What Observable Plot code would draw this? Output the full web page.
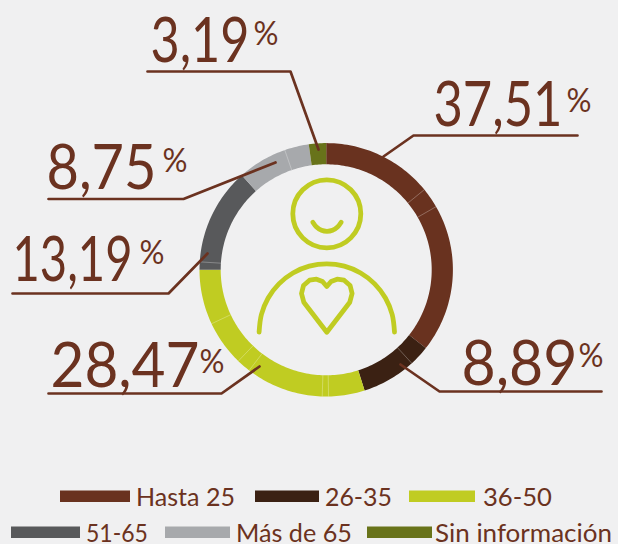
<!DOCTYPE html>
<html><head><meta charset="utf-8">
<script src="https://cdn.jsdelivr.net/npm/d3@7"></script>
<script src="https://cdn.jsdelivr.net/npm/@observablehq/plot@0.6"></script>
<style>
html,body{margin:0;padding:0;background:#f0f0f1;width:618px;height:544px;overflow:hidden}
#chart svg{display:block;background:#f0f0f1}
#chart text{font-family:Lato,sans-serif;font-weight:400}
</style></head><body><div id="chart"></div>
<script>
const categories=["Hasta 25","26-35","36-50","51-65","Más de 65","Sin información"];
const colors=["#69321f","#3b2113","#c0cc22","#58595b","#a7a9ac","#68731a"];
// Arc shares as drawn on the ring (clockwise from 12 o'clock)
const arcShares=[35.6,9.5,29.9,13.4,9.4,2.2];
const seams=[14.1,16.7,38.2,49.7,50.5,60.4,62.2,68,76,94.7];
const ink="#6b3220";

const cx=325.7,cy=269.3,R=126.7,r=105.5;
const polar=(p,rad)=>{const a=p/100*2*Math.PI;return {x:cx+rad*Math.sin(a),y:cy-rad*Math.cos(a)}};
let start=0;const wedges=[];
arcShares.forEach((v,i)=>{const n=Math.ceil(v*3)+1;
  for(let k=0;k<=n;k++)wedges.push({...polar(start+v*k/n,R),cat:categories[i]});
  for(let k=n;k>=0;k--)wedges.push({...polar(start+v*k/n,r),cat:categories[i]});
  start+=v;});
const seamLines=seams.map(s=>{const a=polar(s,r),b=polar(s,R);return{x1:a.x,y1:a.y,x2:b.x,y2:b.y}});

const leaders=[
 {id:"a",pts:[[383,156],[413,135],[577,135]]},
 {id:"b",pts:[[400,364],[439,391],[601,391]]},
 {id:"c",pts:[[259,366],[221,393],[48,393]]},
 {id:"d",pts:[[207,253],[168,293],[12,293]]},
 {id:"e",pts:[[275,162],[183,198.5],[48,198.5]]},
 {id:"f",pts:[[318,149],[290,71],[147,71]]}
].flatMap(l=>l.pts.map(([x,y])=>({x,y,id:l.id})));

const big=[
 {t:"37,51",x:433,y:125.5,w:129},{t:"8,89",x:461,y:384,w:116},{t:"28,47",x:50,y:386,w:149},
 {t:"13,19",x:12,y:280,w:120},{t:"8,75",x:46,y:188,w:110},{t:"3,19",x:150,y:61,w:99}];
const pct=[
 {t:"%",x:566,y:111.5},{t:"%",x:578,y:366},{t:"%",x:199,y:372},
 {t:"%",x:139,y:263},{t:"%",x:162,y:171},{t:"%",x:253,y:44}];

const smile=[[312.3,221.7],[316,226.5],[321,229.8],[326.5,230.8],[332,229.8],[337,226.5],[340.7,221.7]].map(([x,y])=>({x,y}));
const body=d3.range(0,13).map(i=>{const a=-Math.PI/2*(1-i/6);return{x:326.3+67.7*Math.sin(a),y:331.7-68.4*Math.cos(a)}});
const heart=[[326.3,331.7],[303.3,301.7],[301,293],[303,285],[309,279.7],[316,278.7],[322,281],[326.3,286],[330.6,281],[336.6,278.7],[343.6,279.7],[349.6,285],[351.6,293],[349.3,301.7],[326.3,331.7]].map(([x,y])=>({x,y}));
const green="#c0cc22";

const plot=Plot.plot({width:618,height:470,margin:0,
 style:{background:"#f0f0f1"},
 x:{domain:[0,618],range:[0,618],axis:null},
 y:{domain:[0,470],range:[0,470],axis:null},
 color:{domain:categories,range:colors},
 marks:[
  Plot.line(wedges,{x:"x",y:"y",z:"cat",fill:"cat",stroke:null,curve:"linear"}),
  Plot.link(seamLines,{x1:"x1",y1:"y1",x2:"x2",y2:"y2",stroke:"#fff",strokeOpacity:.4,strokeWidth:.7}),
  Plot.dot([{x:326.3,y:213.3}],{x:"x",y:"y",r:34,stroke:green,strokeWidth:4.8,fill:"none"}),
  Plot.line(smile,{x:"x",y:"y",stroke:green,strokeWidth:4.8,curve:"catmull-rom",strokeLinecap:"round"}),
  Plot.line(body,{x:"x",y:"y",stroke:green,strokeWidth:4.8,curve:"catmull-rom",strokeLinecap:"round"}),
  Plot.line(heart,{x:"x",y:"y",stroke:green,strokeWidth:4.8,curve:"linear",strokeLinecap:"round",strokeLinejoin:"round"}),
  Plot.line(leaders,{x:"x",y:"y",z:"id",stroke:ink,strokeWidth:2.7,curve:"linear"}),
  Plot.text(big,{x:"x",y:"y",text:"t",textAnchor:"start",lineAnchor:"bottom",fontSize:61,fill:ink,className:"big"}),
  Plot.text(pct,{x:"x",y:"y",text:"t",textAnchor:"start",lineAnchor:"bottom",fontSize:33,fill:ink,className:"pct"})
 ]});
document.getElementById("chart").append(plot);
// squeeze text horizontally to the reference's narrow typeface
const squeeze=(n,w)=>{const s=w/n.getComputedTextLength();const t=n.getAttribute("transform")||"";n.setAttribute("transform",t+` scale(${s},1)`);};
plot.querySelectorAll(".big text").forEach((n,i)=>squeeze(n,big[i].w));
plot.querySelectorAll(".pct text").forEach(n=>squeeze(n,25));

// legend
const legendRows=[
 [{c:0,sx:60,sw:70,tx:136,tw:99},{c:1,sx:255,sw:64,tx:325,tw:67},{c:2,sx:409,sw:66,tx:483,tw:69}],
 [{c:3,sx:11,sw:69,tx:86,tw:62},{c:4,sx:165,sw:65,tx:236,tw:116},{c:5,sx:367,sw:65,tx:435,tw:177}]];
const legendBase=[506,542];
const legend=d3.create("svg").attr("width",618).attr("height",74).style("display","block").style("position","absolute").style("left",0).style("top","470px");
document.getElementById("chart").append(legend.node());
legendRows.forEach((row,ri)=>row.forEach(e=>{
 legend.append("rect").attr("x",e.sx).attr("y",legendBase[ri]-470-15.5).attr("width",e.sw).attr("height",11.5).attr("fill",colors[e.c]);
 const t=legend.append("text").attr("transform",`translate(${e.tx},${legendBase[ri]-470})`).attr("font-size",25).attr("fill",ink).text(categories[e.c]);
 squeeze(t.node(),e.tw);
}));
</script></body></html>
